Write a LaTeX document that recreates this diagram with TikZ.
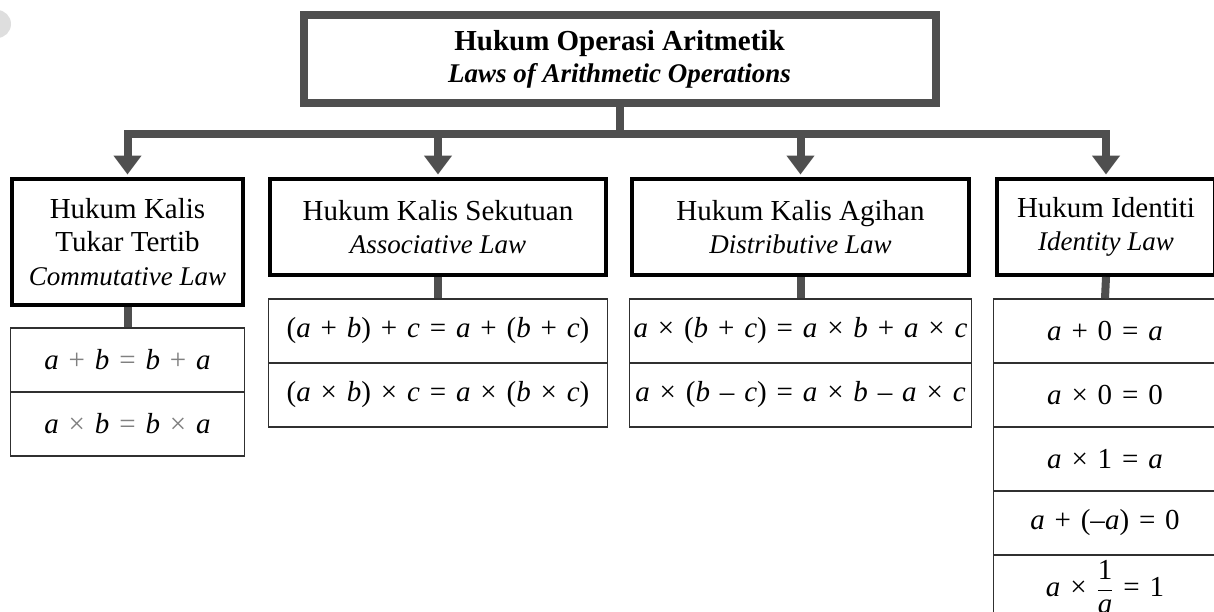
\documentclass[tikz,border=0pt]{standalone}
\usepackage{fontspec}
\setmainfont{Liberation Serif}
\usetikzlibrary{arrows.meta}
\definecolor{conn}{HTML}{4F4F4F}
\definecolor{opgray}{HTML}{808080}
\definecolor{cellline}{HTML}{303030}
\definecolor{blob}{HTML}{DEDEDE}
\newcommand\mv[1]{\textit{#1}}
\newcommand\bo[1]{\hspace{0.34em}#1\hspace{0.34em}}
\newcommand\gbo[1]{\hspace{0.34em}\textcolor{opgray}{#1}\hspace{0.34em}}
\newcommand\engl[1]{{\fontsize{27}{33.5}\selectfont\itshape #1}}
\begin{document}
\begin{tikzpicture}[x=1pt,y=-1pt,
  txt/.style={font=\fontsize{29}{33.5}\selectfont, align=center, inner sep=0pt},
  headbox/.style={draw=conn, line width=8pt, minimum width=632pt, minimum height=88pt,
    txt, font=\fontsize{29}{32}\selectfont},
  lawbox/.style={draw=black, line width=4pt, txt},
  cell/.style={draw=cellline, line width=1.5pt, txt, minimum height=64pt},
  link/.style={draw=conn, line width=8pt},
  arr/.style={link, -{Triangle[width=27pt,length=19pt]}, shorten >=2.5pt}]
\useasboundingbox (0,0) rectangle (1214,611);
\clip (0,0) rectangle (1214,611);
\fill[blob] (-3,24) circle (14pt);

% top box
\node[headbox] (top) at (619.5,59)
  {\textbf{Hukum Operasi Aritmetik}\\{\fontsize{27}{32}\selectfont\bfseries\itshape Laws of Arithmetic Operations}};

% law boxes
\node[lawbox, minimum width=231pt, minimum height=126pt] (b1) at (127.5,242)
  {Hukum Kalis\\Tukar Tertib\\\engl{Commutative Law}};
\node[lawbox, minimum width=336pt, minimum height=96pt] (b2) at (438,227)
  {Hukum Kalis Sekutuan\\\engl{Associative Law}};
\node[lawbox, minimum width=337pt, minimum height=96pt] (b3) at (800.5,227)
  {Hukum Kalis Agihan\\\engl{Distributive Law}};
\node[lawbox, minimum width=218pt, minimum height=96pt] (b4) at (1106,227)
  {Hukum Identiti\\\engl{Identity Law}};

% tables
\node[cell, minimum width=234pt] (c11) at (127.5,360)
  {\mv{a}\gbo{+}\mv{b}\gbo{=}\mv{b}\gbo{+}\mv{a}};
\node[cell, minimum width=234pt] (c12) at (127.5,424)
  {\mv{a}\gbo{×}\mv{b}\gbo{=}\mv{b}\gbo{×}\mv{a}};

\node[cell, minimum width=339pt] (c21) at (438,331)
  {(\mv{a}\bo{+}\mv{b})\bo{+}\mv{c}\bo{=}\mv{a}\bo{+}(\mv{b}\bo{+}\mv{c})};
\node[cell, minimum width=339pt] (c22) at (438,395)
  {(\mv{a}\bo{×}\mv{b})\bo{×}\mv{c}\bo{=}\mv{a}\bo{×}(\mv{b}\bo{×}\mv{c})};

\node[cell, minimum width=342pt] (c31) at (800.5,331)
  {\mv{a}\bo{×}(\mv{b}\bo{+}\mv{c})\bo{=}\mv{a}\bo{×}\mv{b}\bo{+}\mv{a}\bo{×}\mv{c}};
\node[cell, minimum width=342pt] (c32) at (800.5,395)
  {\mv{a}\bo{×}(\mv{b}\bo{–}\mv{c})\bo{=}\mv{a}\bo{×}\mv{b}\bo{–}\mv{a}\bo{×}\mv{c}};

\node[cell, minimum width=223pt] (c41) at (1105,331) {\mv{a}\bo{+}0\bo{=}\mv{a}};
\node[cell, minimum width=223pt] (c42) at (1105,395) {\mv{a}\bo{×}0\bo{=}0};
\node[cell, minimum width=223pt] (c43) at (1105,459) {\mv{a}\bo{×}1\bo{=}\mv{a}};
\node[cell, minimum width=223pt] (c44) at (1105,523) {\mv{a}\bo{+}(–\mv{a})\bo{=}0};
\node[cell, minimum width=223pt] (c45) at (1105,587)
  {\mv{a}\bo{×}$\displaystyle\frac{\mbox{1}}{\mbox{\itshape a}}$\bo{=}1};

% connectors
\coordinate (bar) at (619.5,133.5);
\draw[link] (top.south) -- (bar);
\draw[arr] (bar) -| (b1.north);
\draw[arr] (bar) -| (b4.north);
\draw[arr] (bar) -| (b2.north);
\draw[arr] (bar) -| (b3.north);

\draw[link] (b1.south) -- (c11.north);
\draw[link] (b2.south) -- (c21.north);
\draw[link] (b3.south) -- (c31.north);
\draw[link] (b4.south) -- (c41.north);
\end{tikzpicture}
\end{document}
